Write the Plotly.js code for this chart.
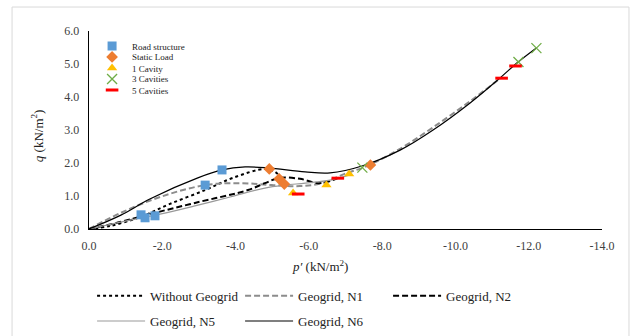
<!DOCTYPE html>
<html><head><meta charset="utf-8">
<script src="https://cdn.plot.ly/plotly-3.0.1.min.js"></script>
<style>html,body{margin:0;padding:0;background:#fff}#chart{width:630px;height:336px}</style>
</head><body><div id="chart"></div><script>
// ---- Curves (p' , q) ----
const withoutP = [0, -0.57, -1.39, -2.21, -3.17, -3.93, -4.80, -5.08, -5.24];
const withoutQ = [0, 0.09, 0.36, 0.76, 1.18, 1.55, 1.82, 1.73, 1.55];
const n1P = [0, -0.85, -1.94, -3.17, -4.12, -4.99, -5.76, -6.36, -7.04, -7.53, -8.49, -9.39, -10.40, -11.24];
const n1Q = [0, 0.48, 0.97, 1.33, 1.39, 1.33, 1.30, 1.39, 1.70, 1.88, 2.43, 3.08, 3.87, 4.58];
const n2P = [0, -0.85, -1.66, -2.89, -4.34, -4.80, -5.21, -5.76, -6.25, -6.58, -6.80];
const n2Q = [0, 0.21, 0.45, 0.79, 1.18, 1.39, 1.55, 1.52, 1.39, 1.45, 1.55];
const n5P = [0, -1.12, -1.94, -2.89, -3.85, -4.80, -5.35, -5.90, -6.58, -7.12];
const n5Q = [0, 0.27, 0.45, 0.70, 0.97, 1.24, 1.33, 1.39, 1.48, 1.64];
const n6P = [0, -0.87, -1.66, -2.97, -3.63, -4.26, -4.89, -5.90, -6.58, -7.45, -8.49, -9.39, -10.40, -11.22, -11.71, -12.20];
const n6Q = [0, 0.42, 0.91, 1.55, 1.79, 1.88, 1.85, 1.73, 1.70, 1.91, 2.39, 3.00, 3.82, 4.58, 5.06, 5.48];

// ---- Stage markers ----
const roadP = [-1.42, -1.53, -1.80, -3.17, -3.63];
const roadQ = [0.43, 0.34, 0.40, 1.33, 1.79];
const staticP = [-4.92, -5.19, -5.33, -7.68];
const staticQ = [1.82, 1.52, 1.36, 1.94];
const cav1P = [-5.57, -6.48, -7.10];
const cav1Q = [1.09, 1.33, 1.67];
const cav3P = [-7.46, -11.72, -12.21];
const cav3Q = [1.86, 5.06, 5.48];
const cav5P = [-5.71, -6.79, -11.26, -11.64];
const cav5Q = [1.06, 1.54, 4.57, 4.94];

// ---- Ticks ----
const xTickVals = [0, -2, -4, -6, -8, -10, -12, -14];
const xTickText = ["0.0", "-2.0", "-4.0", "-6.0", "-8.0", "-10.0", "-12.0", "-14.0"];
const yTickVals = [0, 1, 2, 3, 4, 5, 6];
const yTickText = ["0.0", "1.0", "2.0", "3.0", "4.0", "5.0", "6.0"];

const serif = "Liberation Serif, Times New Roman, serif";

function curve(name, x, y, color, dash, width, legend) {
  return {x, y, name, type: 'scatter', mode: 'lines',
    line: {color, dash, width, shape: 'spline', smoothing: 1},
    legend, hoverinfo: 'skip'};
}
function pts(name, x, y, marker, legend) {
  return {x, y, name, type: 'scatter', mode: 'markers', marker, legend, cliponaxis: false};
}

const traces = [
  curve('Without Geogrid', withoutP, withoutQ, '#000000', 'dot', 2, 'legend'),
  curve('Geogrid, N1', n1P, n1Q, '#8c8c8c', '6px,3px', 2, 'legend'),
  curve('Geogrid, N2', n2P, n2Q, '#000000', '6px,3px', 2, 'legend'),
  curve('Geogrid, N5', n5P, n5Q, '#999999', 'solid', 1.2, 'legend2'),
  curve('Geogrid, N6', n6P, n6Q, '#000000', 'solid', 1.2, 'legend2'),
  pts('Road structure', roadP, roadQ, {symbol: 'square', size: 9, color: '#5B9BD5'}, 'legend3'),
  pts('Static Load', staticP, staticQ, {symbol: 'diamond', size: 9, color: '#ED7D31'}, 'legend4'),
  pts('1 Cavity', cav1P, cav1Q, {symbol: 'triangle-up', size: 9, color: '#FFC000'}, 'legend5'),
  pts('3 Cavities', cav3P, cav3Q, {symbol: 'x-thin', size: 10, line: {color: '#70AD47', width: 1.3}, color: '#70AD47'}, 'legend6'),
  pts('5 Cavities', cav5P, cav5Q, {symbol: 'line-ew', size: 9, line: {color: '#FF0000', width: 3}, color: '#FF0000'}, 'legend7')
];

function lineLegend(y) {
  return {orientation: 'h', x: 0.006, xanchor: 'left', y, yanchor: 'middle',
    bgcolor: 'rgba(0,0,0,0)', borderwidth: 0, entrywidth: 85, itemwidth: 48,
    font: {family: serif, size: 13, color: '#222'}, traceorder: 'normal'};
}
function markLegend(y) {
  return {orientation: 'v', x: 0.006, xanchor: 'left', y, yanchor: 'middle',
    bgcolor: 'rgba(0,0,0,0)', borderwidth: 0, itemwidth: 30,
    font: {family: serif, size: 9, color: '#222'}};
}

const layout = {
  width: 630, height: 336,
  margin: {l: 89, r: 28, t: 31, b: 107, autoexpand: false},
  paper_bgcolor: '#ffffff', plot_bgcolor: '#ffffff',
  font: {family: serif, size: 12, color: '#404040'},
  showlegend: true,
  legend: lineLegend(-0.338),
  legend2: lineLegend(-0.465),
  legend3: markLegend(0.924),
  legend4: markLegend(0.869),
  legend5: markLegend(0.813),
  legend6: markLegend(0.758),
  legend7: markLegend(0.702),
  xaxis: {range: [0, -14], tickmode: 'array', tickvals: xTickVals, ticktext: xTickText,
    showgrid: false, zeroline: false, showline: true, linecolor: '#000', linewidth: 1.3,
    ticks: '', ticklabelstandoff: 5, automargin: false, tickfont: {family: serif, size: 12, color: '#404040'}},
  yaxis: {range: [0, 6], tickmode: 'array', tickvals: yTickVals, ticktext: yTickText,
    showgrid: false, zeroline: false, showline: true, linecolor: '#000', linewidth: 1.3,
    ticks: '', ticklabelstandoff: 6, automargin: false, tickfont: {family: serif, size: 12, color: '#404040'}},
  annotations: [
    {text: '<i>q</i> (kN/m<sup>2</sup>)', xref: 'paper', yref: 'paper', x: -0.101, y: 0.47,
     xanchor: 'center', yanchor: 'middle',
     textangle: -90, showarrow: false, font: {family: serif, size: 13, color: '#222'}},
    {text: '<i>p′</i> (kN/m<sup>2</sup>)', xref: 'paper', yref: 'paper', x: 0.45, y: -0.187,
     xanchor: 'center', yanchor: 'middle',
     showarrow: false, font: {family: serif, size: 13, color: '#222'}}
  ],
  shapes: [
    {type: 'rect', xref: 'paper', yref: 'paper', x0: -0.150, x1: 1.0526, y0: -0.58, y1: 1.121,
     line: {color: '#d9d9d9', width: 1}, fillcolor: 'rgba(0,0,0,0)', layer: 'below'}
  ]
};

Plotly.newPlot('chart', traces, layout, {staticPlot: true, displayModeBar: false});
</script></body></html>
